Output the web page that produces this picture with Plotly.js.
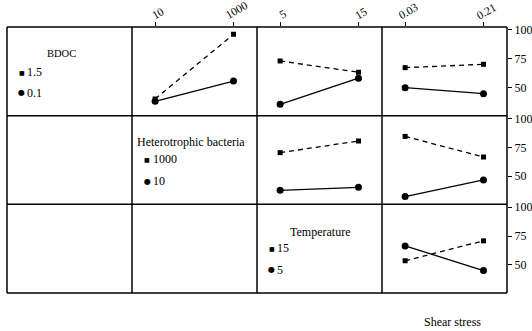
<!DOCTYPE html>
<html>
<head>
<meta charset="utf-8">
<script src="https://cdn.plot.ly/plotly-3.0.1.min.js"></script>
<style>html,body{margin:0;padding:0;background:#fff}#chart{width:532px;height:331px}</style>
</head>
<body>
<div id="chart"></div>
<script>
// factor levels (tick labels)
const bacteriaTicks = ['10', '1000'];
const tempTicks = ['5', '15'];
const shearTicks = ['0.03', '0.21'];

// legend labels
const factorNames = ['BDOC', 'Heterotrophic bacteria', 'Temperature', 'Shear stress'];
const bdocLevels = ['1.5', '0.1'];
const bacteriaLevels = ['1000', '10'];
const tempLevels = ['15', '5'];

// row 1: BDOC (1.5 dashed/square, 0.1 solid/circle)
const bdocHigh_vsBacteria = [40.0, 96.2];
const bdocLow_vsBacteria = [38.0, 55.6];
const bdocHigh_vsTemp = [73.0, 63.2];
const bdocLow_vsTemp = [35.4, 58.0];
const bdocHigh_vsShear = [67.2, 70.1];
const bdocLow_vsShear = [49.8, 44.6];
// row 2: heterotrophic bacteria (1000 dashed, 10 solid)
const bactHigh_vsTemp = [70.4, 80.5];
const bactLow_vsTemp = [37.7, 40.3];
const bactHigh_vsShear = [84.5, 66.6];
const bactLow_vsShear = [32.2, 46.7];
// row 3: temperature (15 dashed, 5 solid)
const tempHigh_vsShear = [53.5, 70.8];
const tempLow_vsShear = [66.4, 45.0];

const yTicks = [50, 75, 100];

const cells = [
  {row: 0, col: 1, x: bacteriaTicks, hi: bdocHigh_vsBacteria, lo: bdocLow_vsBacteria},
  {row: 0, col: 2, x: tempTicks, hi: bdocHigh_vsTemp, lo: bdocLow_vsTemp},
  {row: 0, col: 3, x: shearTicks, hi: bdocHigh_vsShear, lo: bdocLow_vsShear},
  {row: 1, col: 2, x: tempTicks, hi: bactHigh_vsTemp, lo: bactLow_vsTemp},
  {row: 1, col: 3, x: shearTicks, hi: bactHigh_vsShear, lo: bactLow_vsShear},
  {row: 2, col: 3, x: shearTicks, hi: tempHigh_vsShear, lo: tempLow_vsShear}
];

const FONT = 'Liberation Serif, Times New Roman, serif';
const traces = [];
const layout = {
  width: 532, height: 331,
  margin: {l: 7, r: 25, t: 27, b: 38},
  paper_bgcolor: '#fff', plot_bgcolor: 'rgba(0,0,0,0)',
  showlegend: false,
  font: {family: FONT, size: 12, color: '#000'},
  shapes: [], annotations: []
};

cells.forEach((c, i) => {
  const n = i + 1;
  const xa = 'x' + (n === 1 ? '' : n), ya = 'y' + (n === 1 ? '' : n);
  traces.push({
    type: 'scatter', mode: 'lines+markers', x: c.x, y: c.hi, xaxis: xa, yaxis: ya,
    line: {color: '#000', width: 1.3, dash: '5px,4px'},
    marker: {symbol: 'square', size: 5, color: '#000'}, cliponaxis: false
  });
  traces.push({
    type: 'scatter', mode: 'lines+markers', x: c.x, y: c.lo, xaxis: xa, yaxis: ya,
    line: {color: '#000', width: 1.3},
    marker: {symbol: 'circle', size: 7, color: '#000'}, cliponaxis: false
  });
  const topRow = c.row === 0, rightCol = c.col === 3;
  layout['xaxis' + (n === 1 ? '' : n)] = {
    type: 'category', categoryorder: 'array', categoryarray: c.x,
    domain: [c.col / 4, (c.col + 1) / 4], range: [-0.295, 1.3],
    anchor: ya, side: 'top', showgrid: false, zeroline: false, showline: false,
    ticks: topRow ? 'outside' : '', ticklen: 4, tickwidth: 1, tickcolor: '#000',
    showticklabels: false, fixedrange: true
  };
  layout['yaxis' + (n === 1 ? '' : n)] = {
    domain: [1 - (c.row + 1) / 3, 1 - c.row / 3], range: [25.5, 102.5],
    anchor: xa, side: 'right', showgrid: false, zeroline: false, showline: false,
    tickvals: yTicks, ticks: rightCol ? 'outside' : '', ticklen: 4, tickwidth: 1, tickcolor: '#000',
    showticklabels: rightCol, tickfont: {family: FONT, size: 12, color: '#000'}, fixedrange: true
  };
  // rotated top tick labels, centred over each tick (category index positions)
  if (topRow) {
    c.x.forEach((v, k) => layout.annotations.push({
      text: v, x: k, xref: xa, y: 1.012, yref: 'paper', xanchor: 'center', yanchor: 'bottom',
      textangle: -30, xshift: 3, showarrow: false, font: {family: FONT, size: 11.5, color: '#000'}
    }));
  }
});

// frame grid
[0, 0.25, 0.5, 0.75, 1].forEach(x => layout.shapes.push({type: 'line', xref: 'paper', yref: 'paper', x0: x, x1: x, y0: 0, y1: 1, line: {color: '#000', width: 1.5}}));
[0, 1 / 3, 2 / 3, 1].forEach(y => layout.shapes.push({type: 'line', xref: 'paper', yref: 'paper', x0: 0, x1: 1, y0: y, y1: y, line: {color: '#000', width: 1.5}}));

function ann(text, x, y, xanchor, size, family) {
  layout.annotations.push({text: text, x: x, y: y, xref: 'paper', yref: 'paper', xanchor: xanchor, yanchor: 'middle',
    showarrow: false, font: {family: family || FONT, size: size || 12, color: '#000'}});
}
const SYM = 'DejaVu Sans';
function legend(title, titleSize, levels, tx, ty, mx, tix, y1, y2) {
  ann(title, tx, ty, 'center', titleSize);
  ann('■', mx, y1, 'center', 6, SYM);
  ann(levels[0], tix, y1, 'left');
  ann('●', mx, y2, 'center', 8, SYM);
  ann(levels[1], tix, y2, 'left');
}
legend(factorNames[0], 10.5, bdocLevels, 0.108, 0.901, 0.0294, 0.036, 0.830, 0.753);
legend(factorNames[1], 12, bacteriaLevels, 0.367, 0.5665, 0.280, 0.287, 0.5026, 0.421);
legend(factorNames[2], 12, tempLevels, 0.6257, 0.2305, 0.5294, 0.536, 0.168, 0.0865);
ann(factorNames[3], 0.89, -0.108, 'center');

Plotly.newPlot('chart', traces, layout, {staticPlot: true, displayModeBar: false});
</script>
</body>
</html>
